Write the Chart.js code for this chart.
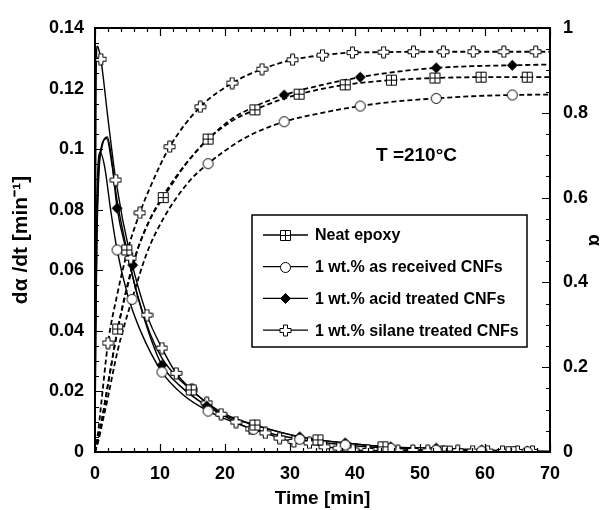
<!DOCTYPE html>
<html><head><meta charset="utf-8">
<script src="https://cdn.jsdelivr.net/npm/chart.js@4/dist/chart.umd.min.js"></script>
<style>html,body{margin:0;padding:0;background:#fff;}canvas{display:block;}</style>
</head><body>
<canvas id="c" width="612" height="510"></canvas>
<script>
// ---- data (time [min], value, marker flag) ----
const seriesNames = ['Neat epoxy', '1 wt.% as received CNFs', '1 wt.% acid treated CNFs', '1 wt.% silane treated CNFs'];
const xTicks = [0, 10, 20, 30, 40, 50, 60, 70];
const yTicks = [0, 0.02, 0.04, 0.06, 0.08, 0.1, 0.12, 0.14];
const y2Ticks = [0, 0.2, 0.4, 0.6, 0.8, 1];

// rate curves dα/dt (left axis)
const neatRate = [[0,0],[0.1,0.04],[0.3,0.075],[0.6,0.094],[1,0.101],[1.8,0.1035],[2.6,0.095],[3.4,0.083],[4.9,0.0667,1],[6.5,0.052],[8.5,0.039],[10.3,0.031],[12.5,0.025],[14.8,0.0205,1],[17.4,0.016],[20,0.0125],[24.6,0.0089,1],[29.5,0.006],[34.3,0.004,1],[39.3,0.0028],[44.3,0.0017,1],[49.2,0.0009],[54.2,0.0003,1],[64,0.0001,1],[70,0]];
const asRecRate = [[0,0],[0.1,0.05],[0.3,0.085],[0.8,0.099],[1.5,0.094],[2.4,0.08],[3.4,0.0667,1],[5,0.052],[7,0.04],[10.3,0.0264,1],[13.5,0.019],[17.4,0.0135,1],[20.5,0.0105],[24.4,0.0075,1],[31.5,0.0042,1],[38.5,0.0023,1],[45.5,0.0012,1],[52.5,0.0006,1],[59.5,0.0003,1],[66.5,0.0001,1],[70,0]];
const acidRate = [[0,0],[0.1,0.035],[0.3,0.07],[0.6,0.092],[1,0.1],[1.9,0.104],[2.6,0.096],[3.4,0.0805,1],[5,0.065],[6.5,0.052],[8.5,0.038],[10.3,0.0287,1],[13,0.022],[17.2,0.0152,1],[20,0.012],[24.6,0.0089,1],[31.5,0.005,1],[38.5,0.003,1],[45.5,0.0017,1],[52.5,0.0013,1],[59.5,0.0007,1],[66.5,0.0003,1],[70,0.0002]];
const silaneRate = [[0,0],[0.05,0.06],[0.15,0.115],[0.3,0.134],[0.5,0.1335],[0.9,0.1297,1],[2,0.11],[3.2,0.0898,1],[5.5,0.064,1],[8,0.0452,1],[10.3,0.0343,1],[12.5,0.026,1],[14.9,0.0205,1],[17.2,0.0162,1],[19.4,0.0125,1],[21.7,0.0099,1],[24,0.0076,1],[26.2,0.0063,1],[28.4,0.0046,1],[30.6,0.0035,1],[33,0.003,1],[35.3,0.0017,1],[37.5,0.0013,1],[39.7,0.0007,1],[42,0.0005,1],[44.3,0.0003,1],[46.6,0.0004,1],[48.9,0.0005,1],[51.2,0.0004,1],[53.5,0.0003,1],[55.8,0.0004,1],[58.1,0.0003,1],[60.4,0.0003,1],[62.7,0.0002,1],[65,0.0002,1],[67.3,0.0002,1],[70,0.0002]];

// conversion curves α (right axis)
const neatConv = [[0,0],[0.5,0.03],[1,0.07],[2,0.16],[3.5,0.29,1],[5,0.39],[6.6,0.48],[8.5,0.55],[10.5,0.6,1],[12,0.635],[14,0.68],[17.4,0.738,1],[21,0.78],[24.6,0.807,1],[28,0.828],[31.4,0.844,1],[38.5,0.866,1],[45.6,0.877,1],[52.3,0.882,1],[59.4,0.884,1],[66.5,0.884,1],[70,0.884]];
const asRecConv = [[0,0],[0.5,0.025],[1,0.06],[2,0.13],[3.5,0.24],[5.7,0.36,1],[8,0.47],[10.5,0.55],[14.3,0.635],[17.4,0.68,1],[23,0.74],[29.1,0.779,1],[35,0.8],[40.8,0.816,1],[46.5,0.827],[52.5,0.834,1],[58,0.839],[64.2,0.842,1],[70,0.843]];
const acidConv = [[0,0],[0.5,0.03],[1,0.07],[2,0.16],[3.5,0.29],[5.8,0.441,1],[8.5,0.55],[10.5,0.605],[14,0.68],[17.4,0.738,1],[21,0.785],[24.6,0.815],[29.1,0.842,1],[35,0.866],[40.8,0.884,1],[46.5,0.897],[52.5,0.906,1],[58,0.91],[64.2,0.912,1],[70,0.914]];
const silaneConv = [[0,0],[0.5,0.05],[1,0.12],[2,0.257,1],[3.4,0.37],[5.1,0.48],[6.9,0.564,1],[8.5,0.625],[11.5,0.72,1],[16.2,0.814,1],[21.1,0.87,1],[25.7,0.903,1],[30.4,0.925,1],[35,0.936,1],[39.6,0.942,1],[44.4,0.943,1],[49,0.944,1],[53.6,0.944,1],[58.2,0.944,1],[62.9,0.944,1],[67.8,0.944,1],[70,0.944]];

// ---- styling ----
const FONT = "'Liberation Sans', Arial, Helvetica, sans-serif";
const INK = '#000';

function mk(type) {
  const c = document.createElement('canvas');
  c.width = 13; c.height = 13;
  const g = c.getContext('2d');
  g.strokeStyle = INK; g.fillStyle = '#fff'; g.lineWidth = 1;
  const m = 6.5;
  g.beginPath();
  if (type === 'square') {
    g.rect(1.5, 1.5, 10, 10); g.fill(); g.stroke();
    g.beginPath(); g.moveTo(m, 1.5); g.lineTo(m, 11.5); g.moveTo(1.5, m); g.lineTo(11.5, m); g.stroke();
  } else if (type === 'circle') {
    g.arc(m, m, 5, 0, Math.PI * 2); g.fill(); g.stroke();
  } else if (type === 'diamond') {
    g.fillStyle = INK;
    g.moveTo(m, 1.5); g.lineTo(11.5, m); g.lineTo(m, 11.5); g.lineTo(1.5, m); g.closePath(); g.fill(); g.stroke();
  } else if (type === 'plus') {
    const a = 2, L = 5.5;
    g.moveTo(m - a, m - L); g.lineTo(m + a, m - L); g.lineTo(m + a, m - a); g.lineTo(m + L, m - a);
    g.lineTo(m + L, m + a); g.lineTo(m + a, m + a); g.lineTo(m + a, m + L); g.lineTo(m - a, m + L);
    g.lineTo(m - a, m + a); g.lineTo(m - L, m + a); g.lineTo(m - L, m - a); g.lineTo(m - a, m - a); g.closePath();
    g.fill(); g.stroke();
  }
  return c;
}
const markers = [mk('square'), mk('circle'), mk('diamond'), mk('plus')];

const rateSets = [neatRate, asRecRate, acidRate, silaneRate];
const convSets = [neatConv, asRecConv, acidConv, silaneConv];
const xy = arr => arr.map(p => ({x: p[0], y: p[1]}));
const onlyMarked = arr => arr.filter(p => p[2]).map(p => ({x: p[0], y: p[1]}));

const datasets = [];
rateSets.forEach((s, i) => {
  datasets.push({label: seriesNames[i], data: xy(s), yAxisID: 'y', borderColor: INK, borderWidth: 1.4, pointRadius: 0, cubicInterpolationMode: 'monotone', fill: false, order: 3});
  datasets.push({label: seriesNames[i] + ' pts', data: onlyMarked(s), yAxisID: 'y', showLine: false, pointStyle: markers[i], pointRadius: 6, order: 1});
});
convSets.forEach((s, i) => {
  datasets.push({label: seriesNames[i] + ' α', data: xy(s), yAxisID: 'y2', borderColor: INK, borderWidth: 1.8, borderDash: [5, 3], pointRadius: 0, cubicInterpolationMode: 'monotone', fill: false, order: 3});
  datasets.push({label: seriesNames[i] + ' α pts', data: onlyMarked(s), yAxisID: 'y2', showLine: false, pointStyle: markers[i], pointRadius: 6, order: 1});
});

const fmt = v => String(+Number(v).toFixed(3));

const overlay = {
  id: 'overlay',
  afterDraw(chart) {
    const {ctx, chartArea: a, scales} = chart;
    ctx.save();
    ctx.strokeStyle = INK;
    // inward tick marks
    ctx.lineWidth = 1.2;
    ctx.beginPath();
    const sx = scales.x, sy = scales.y, sy2 = scales.y2;
    for (let v = 0; v <= 70 + 1e-9; v += 2) {
      const p = Math.round(sx.getPixelForValue(v)) + 0.5;
      const L = (Math.abs(v % 10) < 1e-9) ? 8 : 4;
      ctx.moveTo(p, a.bottom); ctx.lineTo(p, a.bottom - L);
      ctx.moveTo(p, a.top); ctx.lineTo(p, a.top + L);
    }
    for (let k = 0; k <= 28; k++) {
      const v = k * 0.005;
      const p = Math.round(sy.getPixelForValue(v)) + 0.5;
      const L = (k % 4 === 0) ? 8 : 4;
      ctx.moveTo(a.left, p); ctx.lineTo(a.left + L, p);
    }
    for (let k = 0; k <= 20; k++) {
      const v = k * 0.05;
      const p = Math.round(sy2.getPixelForValue(v)) + 0.5;
      const L = (k % 4 === 0) ? 8 : 4;
      ctx.moveTo(a.right, p); ctx.lineTo(a.right - L, p);
    }
    ctx.stroke();
    // frame
    ctx.lineWidth = 2;
    ctx.strokeRect(a.left, a.top, a.right - a.left, a.bottom - a.top);

    // temperature annotation
    ctx.fillStyle = INK;
    ctx.font = 'bold 19px ' + FONT;
    ctx.textBaseline = 'middle';
    ctx.textAlign = 'left';
    ctx.fillText('T =210°C', a.left + 281, 156);

    // legend box
    const bx = 252, by = 215, bw = 275, bh = 132;
    ctx.fillStyle = '#fff';
    ctx.fillRect(bx, by, bw, bh);
    ctx.lineWidth = 1.5;
    ctx.strokeRect(bx, by, bw, bh);
    ctx.font = 'bold 16px ' + FONT;
    seriesNames.forEach((name, i) => {
      const yy = 235 + i * 31.7;
      ctx.lineWidth = 1.3;
      ctx.beginPath(); ctx.moveTo(263, yy); ctx.lineTo(308, yy); ctx.stroke();
      const img = markers[i];
      ctx.drawImage(img, 285.5 - img.width / 2, Math.round(yy) + 0.5 - img.height / 2);
      ctx.fillStyle = INK;
      ctx.fillText(name, 315, yy + 1);
    });
    ctx.restore();
  }
};

const tickFont = {family: FONT, size: 18, weight: 'bold'};
const titleFont = {family: FONT, size: 19, weight: 'bold'};

new Chart(document.getElementById('c'), {
  type: 'line',
  data: {datasets},
  options: {
    responsive: false,
    animation: false,
    devicePixelRatio: 1,
    layout: {padding: {top: 28, left: 0, right: 0, bottom: 0}},
    plugins: {legend: {display: false}, tooltip: {enabled: false}},
    scales: {
      x: {
        type: 'linear', min: 0, max: 70,
        afterBuildTicks: s => { s.ticks = xTicks.map(v => ({value: v})); },
        afterFit: s => { s.height = 58; },
        ticks: {font: tickFont, color: INK, padding: 11, maxRotation: 0, autoSkip: false, callback: fmt},
        grid: {display: false, drawTicks: false},
        border: {display: false},
        title: {display: true, text: 'Time [min]', font: titleFont, color: INK, padding: {top: 2, bottom: 0}}
      },
      y: {
        type: 'linear', position: 'left', min: 0, max: 0.14,
        afterBuildTicks: s => { s.ticks = yTicks.map(v => ({value: v})); },
        afterFit: s => { s.width = 95; },
        ticks: {font: tickFont, color: INK, padding: 11, autoSkip: false, callback: fmt},
        grid: {display: false, drawTicks: false},
        border: {display: false},
        title: {display: true, text: 'dα /dt [min⁻¹]', font: {family: FONT, size: 21, weight: 'bold'}, color: INK, padding: {top: 9, bottom: 0}}
      },
      y2: {
        type: 'linear', position: 'right', min: 0, max: 1,
        afterBuildTicks: s => { s.ticks = y2Ticks.map(v => ({value: v})); },
        afterFit: s => { s.width = 62; },
        ticks: {font: tickFont, color: INK, padding: 13, autoSkip: false, callback: fmt},
        grid: {display: false, drawTicks: false},
        border: {display: false},
        title: {display: true, text: 'α', font: titleFont, color: INK, padding: {top: 6, bottom: 0}}
      }
    }
  },
  plugins: [overlay]
});
</script>
</body></html>
